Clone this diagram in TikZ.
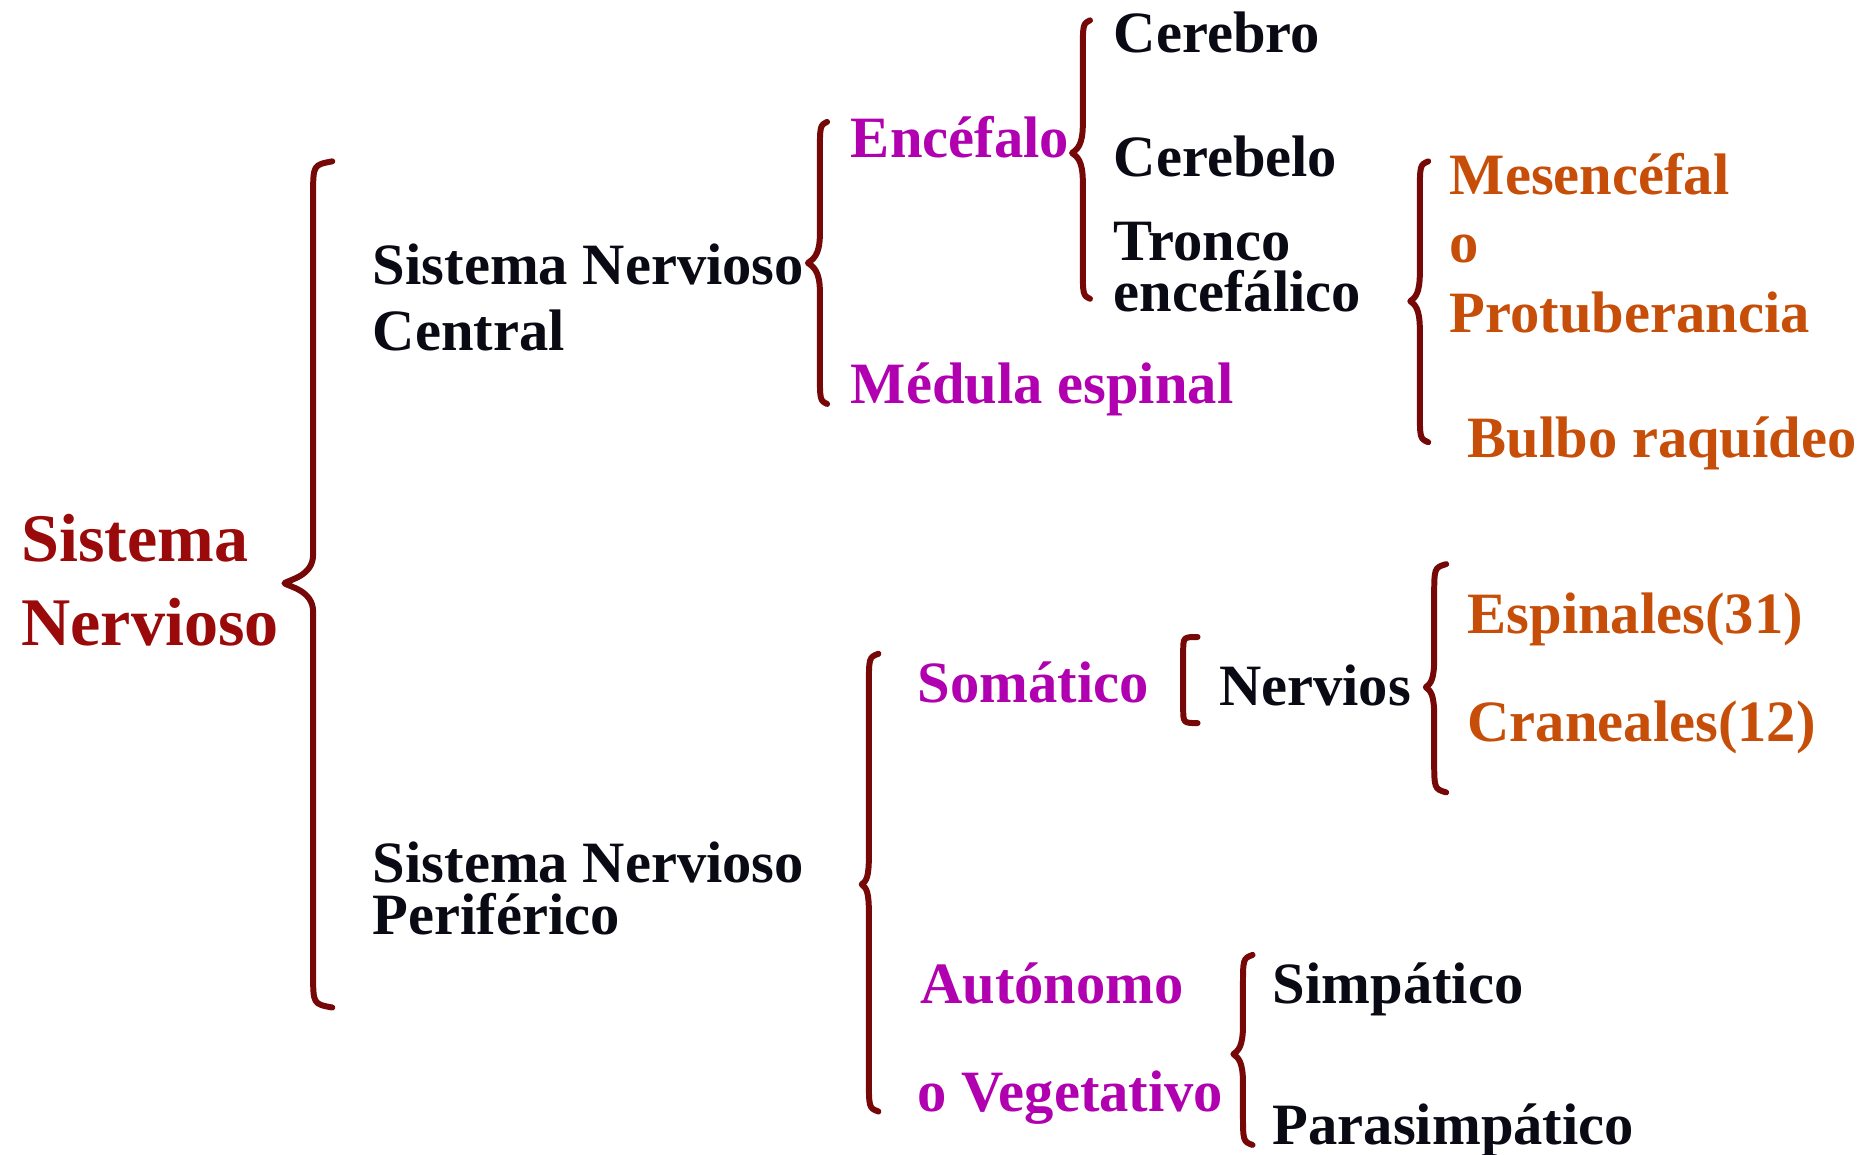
\documentclass[tikz,border=0pt]{standalone}
\usepackage{fontspec}
\setmainfont{Liberation Serif}
\definecolor{bracered}{HTML}{760808}
\definecolor{titlered}{HTML}{9A0A0A}
\definecolor{mag}{HTML}{B000B0}
\definecolor{org}{HTML}{C64E08}
\definecolor{ink}{HTML}{0A0A14}
% #1 ends x, #2 line x, #3 tip x, #4 top y, #5 tip y, #6 bottom y
\newcommand\drawcurly[6]{%
  \draw[bracestyle] (#1,#4) .. controls (#2,#4+3) .. (#2,#4+28)
    -- (#2,#5-24) .. controls (#2,#5-6) and (#3+4,#5-3) .. (#3,#5)
    .. controls (#3+4,#5+3) and (#2,#5+6) .. (#2,#5+24)
    -- (#2,#6-28) .. controls (#2,#6-3) .. (#1,#6);}
\begin{document}
\begin{tikzpicture}[x=1pt,y=-1pt,
  lbl/.style={inner sep=0pt, outer sep=0pt, anchor=base west,
    font=\bfseries\fontsize{49}{55}\selectfont, text=ink},
  ttl/.style={lbl, font=\bfseries\fontsize{57}{66}\selectfont, text=titlered},
  pink/.style={lbl, text=mag},
  orng/.style={lbl, text=org},
  nodesc/.style={text depth=0pt},
  lowtop/.style={text height=35pt},
  bracestyle/.style={draw=bracered, line width=5pt, line cap=round, line join=round}]
\fill[white] (0,0) rectangle (1568,966);
\useasboundingbox (0,0) rectangle (1568,966);

% title
\node[ttl] (t1) at (18,470) {Sistema};
\node[ttl] (t2) at (18,540) {Nervioso};

% level 1
\node[lbl] (snc1) at (312,238) {Sistema Nervioso};
\node[lbl] (snc2) at (312,293) {Central};
\node[lbl, nodesc] (snp1) at (312,738) {Sistema Nervioso};
\node[lbl, lowtop] (snp2) at (312,782) {Periférico};

% central
\node[pink] (enc) at (712,132) {Encéfalo};
\node[pink] (med) at (712,338) {Médula espinal};
\node[lbl] (cer) at (932,44) {Cerebro};
\node[lbl] (cerb) at (932,148) {Cerebelo};
\node[lbl, nodesc] (tr1) at (932,218) {Tronco};
\node[lbl, lowtop] (tr2) at (932,261) {encefálico};
\node[orng] (mes) at (1213,163) {Mesencéfal};
\node[orng] (oo) at (1213,220) {o};
\node[orng] (prot) at (1213,278) {Protuberancia};
\node[orng] (bulbo) at (1228,383) {Bulbo raquídeo};

% periferico
\node[pink] (som) at (768,588) {Somático};
\node[lbl] (nerv) at (1020,590) {Nervios};
\node[orng] (esp) at (1228,530) {Espinales(31)};
\node[orng] (cran) at (1228,620) {Craneales(12)};
\node[pink] (aut) at (770,840) {Autónomo};
\node[pink] (veg) at (768,930) {o Vegetativo};
\node[lbl] (simp) at (1065,840) {Simpático};
\node[lbl] (para) at (1065,958) {Parasimpático};

% braces
\drawcurly{278}{262}{238}{135}{488}{843}
\drawcurly{692}{686}{676}{102}{220}{338}
\drawcurly{912}{906}{897}{17}{128}{250}
\drawcurly{1195}{1188}{1180}{135}{252}{370}
\drawcurly{735}{727}{721}{547}{740}{930}
\drawcurly{1210}{1200}{1193}{472}{575}{663}
\drawcurly{1048}{1040}{1032}{799}{882}{958}
\draw[bracestyle] (1002,533) .. controls (990,533) .. (990,546)
  -- (990,592) .. controls (990,605) .. (1002,605);
\end{tikzpicture}
\end{document}
